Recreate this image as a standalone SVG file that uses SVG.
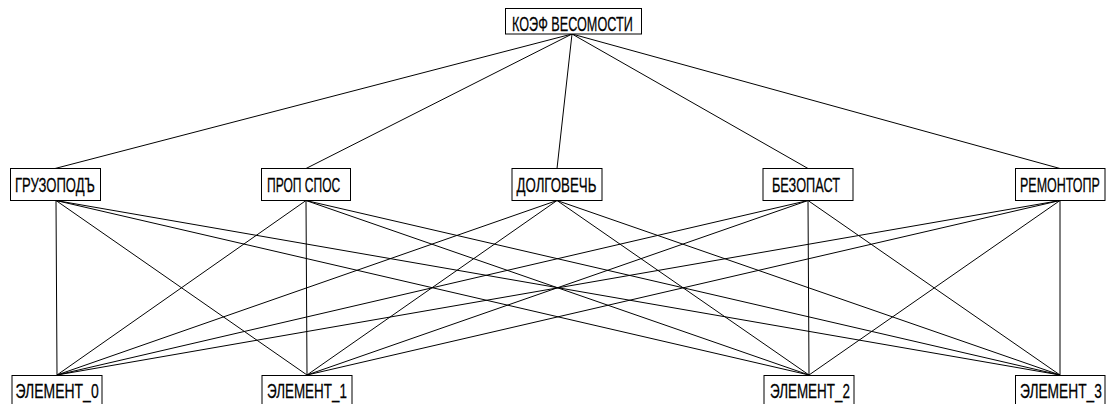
<svg xmlns="http://www.w3.org/2000/svg" width="1107" height="404" viewBox="0 0 1107 404">
<style>
rect{fill:#fff;stroke:#000;stroke-width:1}
text{font-family:"Liberation Sans",Arial,sans-serif;font-size:20px;fill:#000;stroke:#000;stroke-width:0.25}
#connectors line{stroke:#000;stroke-width:1}
</style>
<rect x="0" y="0" width="1107" height="404" style="stroke:none"/>
<g id="connectors">
<line x1="572" y1="34" x2="55" y2="168.5"/>
<line x1="572" y1="34" x2="306" y2="168.5"/>
<line x1="572" y1="34" x2="557" y2="168.5"/>
<line x1="572" y1="34" x2="808" y2="168.5"/>
<line x1="572" y1="34" x2="1060" y2="168.5"/>
<line x1="56" y1="200.5" x2="57" y2="375"/>
<line x1="56" y1="200.5" x2="307" y2="375"/>
<line x1="56" y1="200.5" x2="809" y2="375"/>
<line x1="56" y1="200.5" x2="1060" y2="375"/>
<line x1="306" y1="200.5" x2="57" y2="375"/>
<line x1="306" y1="200.5" x2="307" y2="375"/>
<line x1="306" y1="200.5" x2="809" y2="375"/>
<line x1="306" y1="200.5" x2="1060" y2="375"/>
<line x1="557" y1="200.5" x2="57" y2="375"/>
<line x1="557" y1="200.5" x2="307" y2="375"/>
<line x1="557" y1="200.5" x2="809" y2="375"/>
<line x1="557" y1="200.5" x2="1060" y2="375"/>
<line x1="808" y1="200.5" x2="57" y2="375"/>
<line x1="808" y1="200.5" x2="307" y2="375"/>
<line x1="808" y1="200.5" x2="809" y2="375"/>
<line x1="808" y1="200.5" x2="1060" y2="375"/>
<line x1="1060" y1="200.5" x2="57" y2="375"/>
<line x1="1060" y1="200.5" x2="307" y2="375"/>
<line x1="1060" y1="200.5" x2="809" y2="375"/>
<line x1="1060" y1="200.5" x2="1060" y2="375"/>
</g>
<g id="node-top"><rect x="505.5" y="8.5" width="136" height="25.5"/><g transform="translate(512,31) scale(0.66,1)"><text x="0" y="0" textLength="183" lengthAdjust="spacingAndGlyphs">КОЭФ ВЕСОМОСТИ</text></g></g>
<g id="node-gruz"><rect x="10.5" y="168.5" width="90" height="32"/><g transform="translate(15,192) scale(0.66,1)"><text x="0" y="0" textLength="121" lengthAdjust="spacingAndGlyphs">ГРУЗОПОДЪ</text></g></g>
<g id="node-prop"><rect x="261.5" y="168.5" width="89" height="32"/><g transform="translate(267,192) scale(0.66,1)"><text x="0" y="0" textLength="111" lengthAdjust="spacingAndGlyphs">ПРОП СПОС</text></g></g>
<g id="node-dolg"><rect x="512" y="168.5" width="90" height="32"/><g transform="translate(516.5,192) scale(0.66,1)"><text x="0" y="0" textLength="121" lengthAdjust="spacingAndGlyphs">ДОЛГОВЕЧЬ</text></g></g>
<g id="node-bez"><rect x="763" y="168.5" width="90" height="32"/><g transform="translate(772,192) scale(0.66,1)"><text x="0" y="0" textLength="103" lengthAdjust="spacingAndGlyphs">БЕЗОПАСТ</text></g></g>
<g id="node-rem"><rect x="1015.5" y="168.5" width="89.5" height="32"/><g transform="translate(1020,192) scale(0.66,1)"><text x="0" y="0" textLength="121" lengthAdjust="spacingAndGlyphs">РЕМОНТОПР</text></g></g>
<g id="node-el0"><rect x="12" y="375.5" width="90" height="32"/><g transform="translate(15.5,398) scale(0.66,1)"><text x="0" y="0" textLength="126" lengthAdjust="spacingAndGlyphs">ЭЛЕМЕНТ_0</text></g></g>
<g id="node-el1"><rect x="262" y="375.5" width="90" height="32"/><g transform="translate(267,398) scale(0.66,1)"><text x="0" y="0" textLength="121" lengthAdjust="spacingAndGlyphs">ЭЛЕМЕНТ_1</text></g></g>
<g id="node-el2"><rect x="764" y="375.5" width="90" height="32"/><g transform="translate(770,398) scale(0.66,1)"><text x="0" y="0" textLength="121" lengthAdjust="spacingAndGlyphs">ЭЛЕМЕНТ_2</text></g></g>
<g id="node-el3"><rect x="1015.5" y="375.5" width="89.5" height="32"/><g transform="translate(1020,398) scale(0.66,1)"><text x="0" y="0" textLength="124" lengthAdjust="spacingAndGlyphs">ЭЛЕМЕНТ_3</text></g></g>
</svg>
